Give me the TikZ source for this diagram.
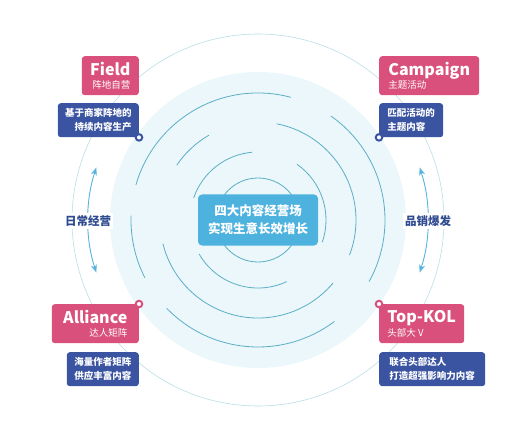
\documentclass[tikz,border=0pt]{standalone}
\usepackage{fontspec}
\setmainfont{Noto Sans CJK SC}
\usetikzlibrary{arrows.meta}

\definecolor{discfill}{HTML}{EBF7FA}
\definecolor{outerring}{HTML}{B8DEE6}
\definecolor{arcteal}{HTML}{5BAEC6}
\definecolor{hubblue}{HTML}{4EB2DF}
\definecolor{tagpink}{HTML}{D9507C}
\definecolor{noteblue}{HTML}{3B54A2}
\definecolor{labelnavy}{HTML}{2E4A90}
\definecolor{arrowblue}{HTML}{58B3DE}

\tikzset{
  pinkbox/.style={fill=tagpink, text=white, rounded corners=3pt, inner sep=0pt,
    minimum height=39pt, font=\fontsize{9.5}{13.5}\selectfont},
  bluebox/.style={fill=noteblue, text=white, rounded corners=3pt, inner sep=0pt,
    minimum height=34pt, font=\fontsize{9.5}{14}\bfseries\selectfont},
  hubbox/.style={fill=hubblue, text=white, rounded corners=4pt, inner sep=0pt,
    minimum width=120pt, minimum height=51pt, align=center,
    font=\fontsize{12.5}{18}\bfseries\selectfont},
  dotmark/.style={circle, fill=white, draw, line width=2pt, inner sep=0pt, minimum size=6.5pt},
  ringarc/.style={draw=arcteal, line width=0.8pt},
  sidearrow/.style={draw=arrowblue, line width=0.9pt, {Stealth[length=8pt,width=6pt]}-{Stealth[length=8pt,width=6pt]}},
  sidelabel/.style={fill=white, text=labelnavy, inner sep=2pt,
    font=\fontsize{11.5}{14}\bfseries\selectfont},
}
\newcommand{\tagword}[1]{{\fontsize{16}{18}\bfseries\selectfont #1}}

\begin{document}
\begin{tikzpicture}[x=1pt, y=1pt]
  \useasboundingbox (0,0) rectangle (520,432);
  \coordinate (O) at (258,212);

  % Background disc and outer ring
  \fill[discfill] (O) circle[radius=148];
  \draw[outerring, line width=0.6pt] (O) circle[radius=186];

  % Broken rings
  \draw[ringarc] (O) circle[radius=42];
  \foreach \r/\a/\b in {68/95/161, 68/210/295, 68/-19/55,
                        98/120/146, 98/194/320, 98/-21/79,
                        127/75/164, 127/178/207, 127/224/307, 127/-29/55}
    \draw[ringarc] (O) ++(\a:\r) arc[start angle=\a, end angle=\b, radius=\r];

  % Centre
  \node[hubbox] (hub) at (O) {四大内容经营场\\实现生意长效增长};

  % Side arrows
  \draw[sidearrow] (O) ++(162:170) coordinate (dailytop)
    arc[start angle=162, end angle=198, radius=170] coordinate (dailybot);
  \draw[sidearrow] (O) ++(18:170) coordinate (bursttop)
    arc[start angle=18, end angle=-18, radius=170] coordinate (burstbot);
  \node[sidelabel] (daily) at (88,211) {日常经营};
  \node[sidelabel] (burst) at (428,211) {品销爆发};

  % Field
  \node[pinkbox, minimum width=57pt, anchor=north east, align=right] (field) at (139,376)
    {\tagword{Field}\\阵地自营};
  \node[bluebox, minimum width=81pt, anchor=north east, align=right] (fieldnote) at (139,329)
    {基于商家阵地的\\持续内容生产};
  \node[dotmark, draw=noteblue] (fielddot) at (fieldnote.south east) {};

  % Campaign
  \node[pinkbox, minimum width=100pt, anchor=north west, align=left] (campaign) at (379,376)
    {\tagword{Campaign}\\主题活动};
  \node[bluebox, minimum width=64pt, anchor=north west, align=left] (campaignnote) at (379,329)
    {匹配活动的\\主题内容};
  \node[dotmark, draw=noteblue] (campaigndot) at (campaignnote.south west) {};

  % Alliance
  \node[pinkbox, minimum width=87pt, anchor=north east, align=right] (alliance) at (139,128)
    {\tagword{Alliance}\\达人矩阵};
  \node[dotmark, draw=tagpink] (alliancedot) at (alliance.north east) {};
  \node[bluebox, minimum width=72pt, anchor=north east, align=center] (alliancenote) at (139,80)
    {海量作者矩阵\\供应丰富内容};

  % Top-KOL
  \node[pinkbox, minimum width=85pt, anchor=north west, align=left] (topkol) at (379,128)
    {\tagword{Top-KOL}\\头部大 V};
  \node[dotmark, draw=tagpink] (topkoldot) at (topkol.north west) {};
  \node[bluebox, minimum width=106pt, anchor=north west, align=left] (topkolnote) at (379,80)
    {联合头部达人\\打造超强影响力内容};
\end{tikzpicture}
\end{document}
